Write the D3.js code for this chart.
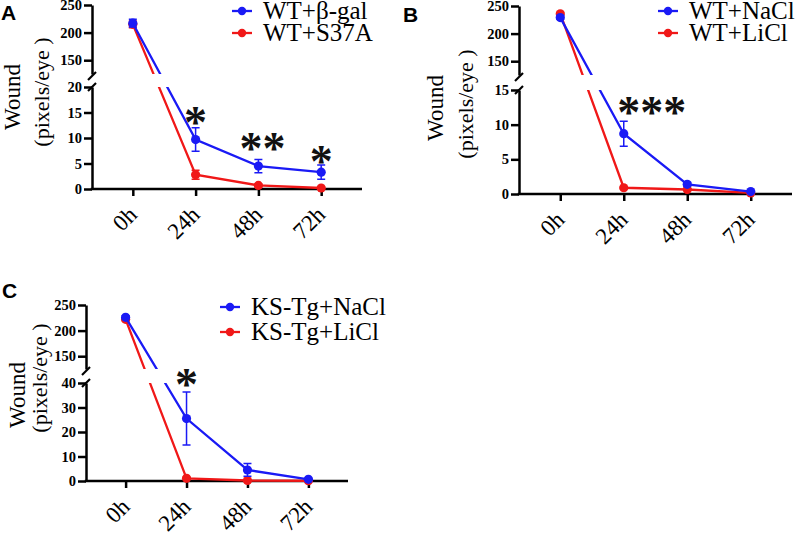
<!DOCTYPE html>
<html>
<head>
<meta charset="utf-8">
<script src="https://cdn.jsdelivr.net/npm/d3@7"></script>
<style>
  html, body { margin: 0; padding: 0; background: #fff; }
  svg { display: block; }
</style>
</head>
<body>
<svg id="chart" width="800" height="535"></svg>
<script>
// ---------------- DATA ----------------
const categories = ["0h", "24h", "48h", "72h"];

// Panel A
const legendA = ["WT+β-gal", "WT+S37A"];
const blueA = [217, 9.7, 4.5, 3.3];
const blueErrA = [7, 2.3, 1.3, 1.4];
const redA = [215, 2.8, 0.7, 0.2];
const redErrA = [6, 0.9, 0.3, 0.15];
const lowerTicksA = [0, 5, 10, 15, 20];
const starsA = [
  { cat: "24h", label: "*", value: 14.2, shift: 0 },
  { cat: "48h", label: "**", value: 9.2, shift: 4 },
  { cat: "72h", label: "*", value: 6.6, shift: 0 }
];

// Panel B
const legendB = ["WT+NaCl", "WT+LiCl"];
const blueB = [229, 8.7, 1.4, 0.35];
const blueErrB = [3, 1.8, 0.3, 0.1];
const redB = [236, 0.9, 0.65, 0.15];
const redErrB = [2, 0.1, 0.1, 0.05];
const lowerTicksB = [0, 5, 10, 15];
const starsB = [
  { cat: "24h", label: "***", value: 12.6, shift: 28 }
];

// Panel C
const legendC = ["KS-Tg+NaCl", "KS-Tg+LiCl"];
const blueC = [226, 25.5, 4.5, 0.7];
const blueErrC = [3, 10.8, 2.6, 0.3];
const redC = [222, 1.1, 0.2, 0.1];
const redErrC = [3, 0.3, 0.1, 0.05];
const lowerTicksC = [0, 10, 20, 30, 40];
const starsC = [
  { cat: "24h", label: "*", value: 42, shift: 0 }
];

const upperTicks = [150, 200, 250];
const upperDomain = [125, 250];
const yTitle = ["Wound", "(pixels/eye )"];

// ---------------- STYLE / LAYOUT ----------------
const BLUE = "#1a1af5";
const RED = "#f01818";
const SERIF = "'Liberation Serif', 'Times New Roman', serif";
const SANS = "'Liberation Sans', Arial, sans-serif";

const panels = [
  { letter: "A", lx: 1, ly: 20,
    ax: 92, xEnd: 362, yBase: 189, lowerTop: 87, upperTop: 5, upperBottom: 74,
    lowerMax: 20, lowerTicks: lowerTicksA,
    series: [
      { values: redA, errs: redErrA, color: RED },
      { values: blueA, errs: blueErrA, color: BLUE }
    ],
    legend: legendA, legX: 232, legY: [11, 33], stars: starsA,
    t1: { x: 20, y: 97 }, t2: { x: 49, y: 92 } },
  { letter: "B", lx: 403, ly: 22,
    ax: 519, xEnd: 792, yBase: 194, lowerTop: 90, upperTop: 6, upperBottom: 75,
    lowerMax: 15, lowerTicks: lowerTicksB,
    series: [
      { values: redB, errs: redErrB, color: RED },
      { values: blueB, errs: blueErrB, color: BLUE }
    ],
    legend: legendB, legX: 658, legY: [11, 33], stars: starsB,
    t1: { x: 443, y: 108 }, t2: { x: 473, y: 104 } },
  { letter: "C", lx: 2, ly: 298,
    ax: 86, xEnd: 348, yBase: 481, lowerTop: 383, upperTop: 305, upperBottom: 369,
    lowerMax: 40, lowerTicks: lowerTicksC,
    series: [
      { values: redC, errs: redErrC, color: RED },
      { values: blueC, errs: blueErrC, color: BLUE }
    ],
    legend: legendC, legX: 220, legY: [307, 332], stars: starsC,
    t1: { x: 25, y: 395 }, t2: { x: 47, y: 378 } }
];

const svg = d3.select("#chart");

panels.forEach((p, pi) => {
  const g = svg.append("g");

  const x = d3.scalePoint().domain(categories).range([p.ax, p.xEnd]).padding(0.65);
  const yLow = d3.scaleLinear().domain([0, p.lowerMax]).range([p.yBase, p.lowerTop]);
  const yUp = d3.scaleLinear().domain(upperDomain).range([p.upperBottom, p.upperTop]);
  const y = v => (v > p.lowerMax ? yUp(v) : yLow(v));

  // clip path: union of the two axis segments
  const clipId = "clip" + pi;
  const cp = svg.append("clipPath").attr("id", clipId);
  cp.append("rect").attr("x", p.ax - 20).attr("y", p.upperTop - 20)
    .attr("width", p.xEnd - p.ax + 40).attr("height", p.upperBottom - p.upperTop + 20);
  cp.append("rect").attr("x", p.ax - 20).attr("y", p.lowerTop)
    .attr("width", p.xEnd - p.ax + 40).attr("height", p.yBase - p.lowerTop + 20);

  // panel letter
  g.append("text").attr("x", p.lx).attr("y", p.ly)
    .attr("font-family", SANS).attr("font-weight", "bold").attr("font-size", 21)
    .text(p.letter);

  // y title
  g.append("text").attr("transform", `translate(${p.t1.x},${p.t1.y}) rotate(-90)`)
    .attr("text-anchor", "middle").attr("font-family", SERIF).attr("font-size", 23)
    .text(yTitle[0]);
  g.append("text").attr("transform", `translate(${p.t2.x},${p.t2.y}) rotate(-90)`)
    .attr("text-anchor", "middle").attr("font-family", SERIF).attr("font-size", 22)
    .text(yTitle[1]);

  // axes
  const styleAxis = sel => {
    sel.select(".domain").attr("stroke", "#000").attr("stroke-width", 2.5);
    sel.selectAll(".tick line").attr("stroke", "#000").attr("stroke-width", 2.5);
  };
  const yAxLow = g.append("g").attr("transform", `translate(${p.ax},0)`)
    .call(d3.axisLeft(yLow).tickValues(p.lowerTicks).tickSize(8).tickSizeOuter(0).tickPadding(2));
  const yAxUp = g.append("g").attr("transform", `translate(${p.ax},0)`)
    .call(d3.axisLeft(yUp).tickValues(upperTicks).tickSize(8).tickSizeOuter(0).tickPadding(2));
  [yAxLow, yAxUp].forEach(a => {
    styleAxis(a);
    a.selectAll(".tick text").attr("font-family", SERIF).attr("font-weight", "bold")
      .attr("font-size", 14.5).attr("fill", "#000");
  });

  const xAx = g.append("g").attr("transform", `translate(0,${p.yBase})`)
    .call(d3.axisBottom(x).tickSize(7).tickSizeOuter(0));
  styleAxis(xAx);
  xAx.select(".domain").attr("d", `M${p.ax - 1.25},0H${p.xEnd}`);
  xAx.selectAll(".tick text")
    .attr("x", 0).attr("y", 0).attr("dy", 0)
    .attr("transform", "translate(5,27) rotate(-45)")
    .attr("text-anchor", "end")
    .attr("font-family", SERIF).attr("font-size", 23).attr("fill", "#000");

  // break marks
  [p.upperBottom + 2, p.lowerTop].forEach(by => {
    g.append("line").attr("x1", p.ax - 4).attr("y1", by + 4)
      .attr("x2", p.ax + 4).attr("y2", by - 4)
      .attr("stroke", "#000").attr("stroke-width", 2.2);
  });

  // data
  const dg = g.append("g").attr("clip-path", `url(#${clipId})`);
  const line = d3.line().x((d, i) => x(categories[i])).y(d => y(d));
  p.series.forEach(s => {
    dg.append("path").datum(s.values).attr("d", line)
      .attr("fill", "none").attr("stroke", s.color).attr("stroke-width", 2.3);
    s.values.forEach((v, i) => {
      const cx = x(categories[i]);
      const e = s.errs[i];
      const yt = y(v + e), yb = y(v - e);
      dg.append("line").attr("x1", cx).attr("x2", cx).attr("y1", yt).attr("y2", yb)
        .attr("stroke", s.color).attr("stroke-width", 1.5);
      [yt, yb].forEach(yy => dg.append("line").attr("x1", cx - 4).attr("x2", cx + 4)
        .attr("y1", yy).attr("y2", yy).attr("stroke", s.color).attr("stroke-width", 1.5));
      dg.append("circle").attr("cx", cx).attr("cy", y(v)).attr("r", 4.6).attr("fill", s.color);
    });
  });

  // significance stars
  p.stars.forEach(st => {
    g.append("text")
      .attr("x", x(st.cat) + st.shift)
      .attr("y", yLow(st.value) + 46 * 0.47)
      .attr("text-anchor", "middle")
      .attr("font-family", SERIF).attr("font-weight", "bold")
      .attr("font-size", 46).attr("fill", "#111")
      .text(st.label);
  });

  // legend (blue first, red second)
  const legColors = [BLUE, RED];
  p.legend.forEach((lab, i) => {
    const ly = p.legY[i];
    g.append("line").attr("x1", p.legX).attr("x2", p.legX + 20).attr("y1", ly).attr("y2", ly)
      .attr("stroke", legColors[i]).attr("stroke-width", 2.3);
    g.append("circle").attr("cx", p.legX + 10).attr("cy", ly).attr("r", 4.2).attr("fill", legColors[i]);
    g.append("text").attr("x", p.legX + 31).attr("y", ly + 8)
      .attr("font-family", SERIF).attr("font-size", 25).attr("fill", "#000")
      .text(lab);
  });
});
</script>
</body>
</html>
